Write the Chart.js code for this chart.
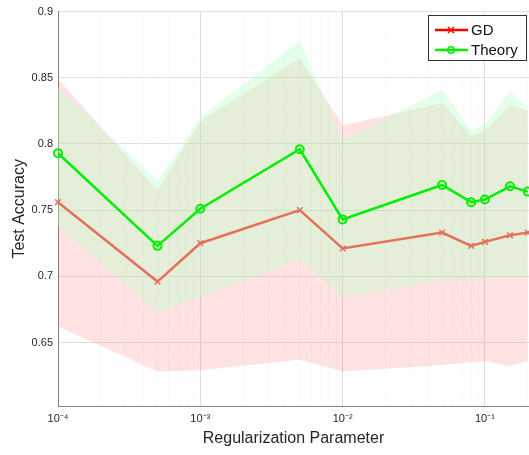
<!DOCTYPE html>
<html>
<head>
<meta charset="utf-8">
<script src="https://cdn.jsdelivr.net/npm/chart.js@4.4.1/dist/chart.umd.min.js"></script>
<style>
  body { margin: 0; background: #fff; }
  #wrap { width: 529px; height: 455px; }
</style>
</head>
<body>
<div id="wrap"><canvas id="grafico" width="529" height="455"></canvas></div>
<script>
// regularization values (x axis, log)
const lambdas = [1e-4, 5e-4, 1e-3, 5e-3, 1e-2, 5e-2, 8e-2, 1e-1, 1.5e-1, 2e-1]

// mean test accuracy
const gdMean     = [0.756, 0.696, 0.725, 0.750, 0.721, 0.733, 0.723, 0.726, 0.731, 0.733]
const theoryMean = [0.793, 0.723, 0.751, 0.796, 0.743, 0.769, 0.756, 0.758, 0.768, 0.764]

// shaded bands (mean +/- std)
const gdUpper     = [0.849, 0.765, 0.817, 0.865, 0.814, 0.831, 0.806, 0.810, 0.829, 0.825]
const gdLower     = [0.662, 0.628, 0.629, 0.637, 0.628, 0.633, 0.635, 0.636, 0.632, 0.636]
const theoryUpper = [0.843, 0.772, 0.820, 0.878, 0.803, 0.841, 0.810, 0.815, 0.840, 0.828]
const theoryLower = [0.738, 0.673, 0.684, 0.713, 0.684, 0.697, 0.698, 0.698, 0.699, 0.699]

const yTicks = [0.65, 0.7, 0.75, 0.8, 0.85, 0.9]

const pts = arr => lambdas.map((x, i) => ({ x: x, y: arr[i] }))

const sup = { '-': '\u207B', '0': '\u2070', '1': '\u00B9', '2': '\u00B2', '3': '\u00B3', '4': '\u2074', '5': '\u2075' }

// legend drawn inside the axes (like matlab 'northeast')
const boxLegend = {
  id: 'boxLegend',
  afterDraw(chart) {
    const ctx = chart.ctx
    const items = [
      { label: 'GD', color: '#ff0000', style: 'x' },
      { label: 'Theory', color: '#00ee00', style: 'o' }
    ]
    ctx.save()
    ctx.fillStyle = '#fff'
    ctx.fillRect(428.5, 15.5, 98, 45)
    ctx.strokeStyle = '#333'
    ctx.lineWidth = 1
    ctx.strokeRect(428.5, 15.5, 98, 45)
    items.forEach((it, i) => {
      const y = 30 + i * 20
      ctx.strokeStyle = it.color
      ctx.lineWidth = 2.5
      ctx.beginPath(); ctx.moveTo(435, y); ctx.lineTo(468, y); ctx.stroke()
      ctx.lineWidth = 1.5
      if (it.style === 'o') {
        ctx.beginPath(); ctx.arc(451, y, 3.2, 0, Math.PI * 2); ctx.stroke()
      } else {
        ctx.beginPath()
        ctx.moveTo(448, y - 3); ctx.lineTo(454, y + 3)
        ctx.moveTo(454, y - 3); ctx.lineTo(448, y + 3)
        ctx.stroke()
      }
      ctx.fillStyle = '#111'
      ctx.font = '15px "Liberation Sans", Arial, sans-serif'
      ctx.textBaseline = 'middle'
      ctx.fillText(it.label, 471, y + 1)
    })
    ctx.restore()
  }
}

const canvas = document.getElementById('grafico')
const ctx = canvas.getContext('2d')

const isMajor = v => Math.abs(Math.log10(v) - Math.round(Math.log10(v))) < 1e-9

const chart = new Chart(ctx, {
  type: 'line',
  data: {
    datasets: [
      {
        label: 'GD',
        data: pts(gdMean),
        borderColor: '#e2725b',
        backgroundColor: '#e2725b',
        borderWidth: 2.5,
        pointStyle: 'crossRot',
        pointRadius: 4,
        pointBorderWidth: 1.5,
        order: 1,
        clip: 8
      },
      {
        label: 'Theory',
        data: pts(theoryMean),
        borderColor: '#00ee00',
        backgroundColor: 'rgba(0,0,0,0)',
        borderWidth: 2.5,
        pointStyle: 'circle',
        pointRadius: 4,
        pointBorderWidth: 2,
        order: 0,
        clip: 8
      },
      {
        label: 'gd lower',
        data: pts(gdLower),
        borderWidth: 0,
        pointRadius: 0,
        fill: false,
        order: 5
      },
      {
        label: 'gd upper',
        data: pts(gdUpper),
        borderWidth: 0,
        pointRadius: 0,
        backgroundColor: 'rgba(255,40,40,0.13)',
        fill: 2,
        order: 4
      },
      {
        label: 'theory lower',
        data: pts(theoryLower),
        borderWidth: 0,
        pointRadius: 0,
        fill: false,
        order: 3
      },
      {
        label: 'theory upper',
        data: pts(theoryUpper),
        borderWidth: 0,
        pointRadius: 0,
        backgroundColor: 'rgba(182,255,199,0.37)',
        fill: 4,
        order: 3
      }
    ]
  },
  options: {
    responsive: false,
    animation: false,
    layout: { autoPadding: false, padding: { top: 7, right: 0, left: 0, bottom: 0 } },
    plugins: {
      legend: { display: false },
      tooltip: { enabled: false }
    },
    elements: { line: { tension: 0 } },
    scales: {
      x: {
        type: 'logarithmic',
        min: 1e-4,
        max: 0.204,
        afterBuildTicks(scale) {
          const t = []
          for (let e = -4; e <= -1; e++) {
            for (let m = 1; m <= 9; m++) {
              const v = m * Math.pow(10, e)
              if (v <= 0.204) t.push({ value: v })
            }
          }
          scale.ticks = t
        },
        afterFit(scale) {
          scale.height = 49
          scale.paddingRight = 0
          scale.paddingLeft = 0
        },
        ticks: {
          autoSkip: false,
          maxRotation: 0,
          padding: 6,
          color: '#262626',
          font: { family: '"Liberation Sans", Arial, sans-serif', size: 11 },
          callback(v) {
            if (!isMajor(v)) return ''
            const e = String(Math.round(Math.log10(v)))
            return '10' + e.split('').map(c => sup[c]).join('')
          }
        },
        grid: {
          drawTicks: false,
          color: c => (c.tick && isMajor(c.tick.value)) ? '#dedede' : '#ececec',
          lineWidth: 1
        },
        border: {
          color: '#808080',
          width: 1,
          dash: c => (c.tick && !isMajor(c.tick.value)) ? [1, 2] : []
        },
        title: {
          display: true,
          text: 'Regularization Parameter',
          color: '#262626',
          font: { family: '"Liberation Sans", Arial, sans-serif', size: 16 },
          padding: { top: 0, bottom: 7 }
        }
      },
      y: {
        min: 0.602,
        max: 0.9,
        afterBuildTicks(scale) {
          scale.ticks = yTicks.map(v => ({ value: v }))
        },
        afterFit(scale) { scale.width = 58 },
        ticks: {
          padding: 5,
          color: '#262626',
          font: { family: '"Liberation Sans", Arial, sans-serif', size: 11 },
          callback: v => String(Number(v.toFixed(2)))
        },
        grid: {
          drawTicks: false,
          color: '#e2e2e2',
          lineWidth: 1
        },
        border: { color: '#808080', width: 1 },
        title: {
          display: true,
          text: 'Test Accuracy',
          color: '#262626',
          font: { family: '"Liberation Sans", Arial, sans-serif', size: 16 },
          padding: { top: 10, bottom: 0 }
        }
      }
    }
  },
  plugins: [boxLegend]
})
</script>
</body>
</html>
